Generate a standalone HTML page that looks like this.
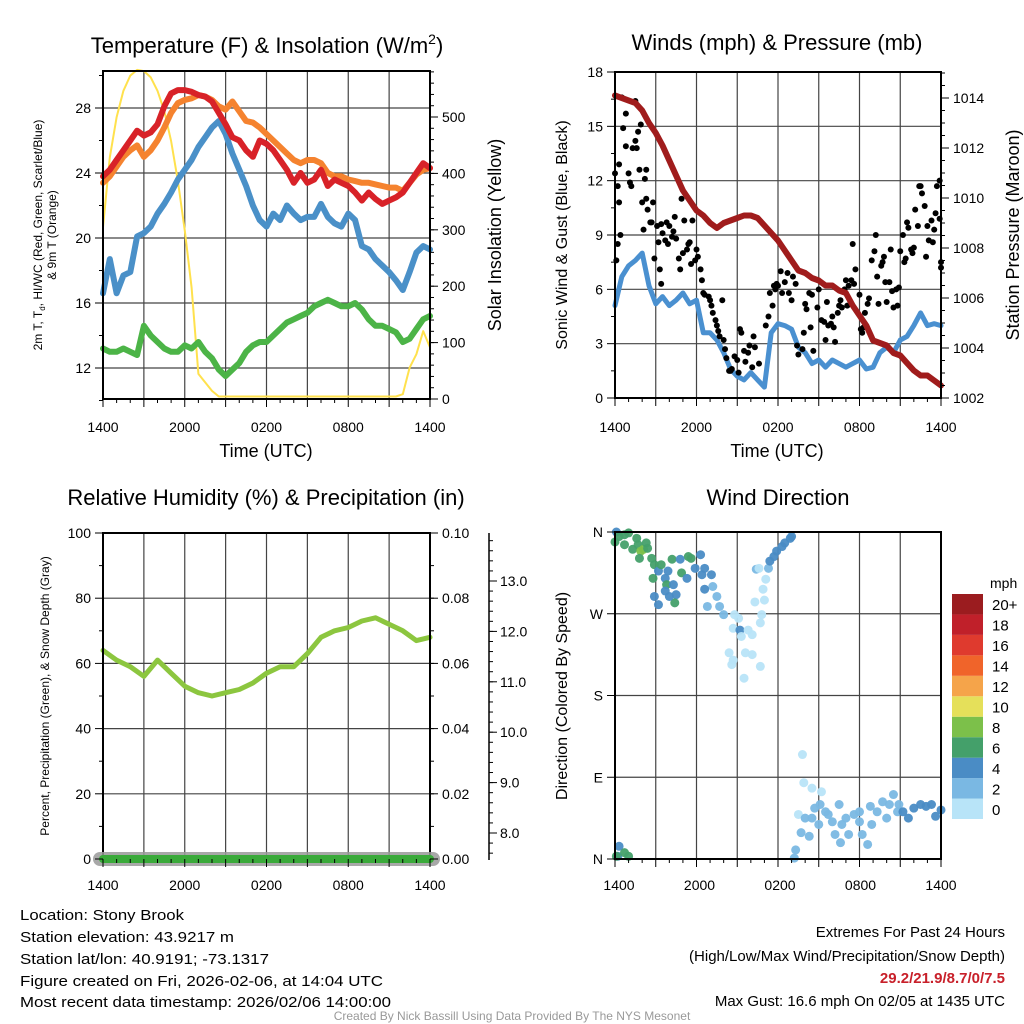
<!DOCTYPE html>
<html><head><meta charset="utf-8">
<style>
html,body{margin:0;padding:0;background:#fff;}
svg{display:block;font-family:"Liberation Sans",Arial,sans-serif;}
</style></head>
<body>
<svg id="chart" width="1024" height="1024" viewBox="0 0 1024 1024" xmlns="http://www.w3.org/2000/svg">
<rect width="1024" height="1024" fill="#fff"/>
<g id="g1"></g>
<g id="g2"></g>
<g id="g3"></g>
<g id="g4"></g>
<text x="267" y="53" font-size="22" text-anchor="middle">Temperature (F) &amp; Insolation (W/m<tspan font-size="14" dy="-9">2</tspan><tspan dy="9">)</tspan></text>
<text x="777" y="50" font-size="22" text-anchor="middle">Winds (mph) &amp; Pressure (mb)</text>
<text x="266" y="505" font-size="22" text-anchor="middle">Relative Humidity (%) &amp; Precipitation (in)</text>
<text x="778" y="505" font-size="22" text-anchor="middle">Wind Direction</text>
<text x="266" y="457" font-size="18" text-anchor="middle">Time (UTC)</text>
<text x="777" y="457" font-size="18" text-anchor="middle">Time (UTC)</text>
<text transform="translate(42,235) rotate(-90)" font-size="12" text-anchor="middle">2m T, T<tspan font-size="8" dy="3">d</tspan><tspan dy="-3">, HI/WC (Red, Green, Scarlet/Blue)</tspan></text>
<text transform="translate(56,235) rotate(-90)" font-size="12" text-anchor="middle">&amp; 9m T (Orange)</text>
<text transform="translate(501,235) rotate(-90)" font-size="18" text-anchor="middle">Solar Insolation (Yellow)</text>
<text transform="translate(567,235) rotate(-90)" font-size="16" text-anchor="middle">Sonic Wind &amp; Gust (Blue, Black)</text>
<text transform="translate(1019,235) rotate(-90)" font-size="18" text-anchor="middle">Station Pressure (Maroon)</text>
<text transform="translate(49,696) rotate(-90)" font-size="12" text-anchor="middle">Percent, Precipitation (Green), &amp; Snow Depth (Gray)</text>
<text transform="translate(567,696) rotate(-90)" font-size="16" text-anchor="middle">Direction (Colored By Speed)</text>
<g font-size="15">
<text x="20" y="920" textLength="164" lengthAdjust="spacingAndGlyphs">Location: Stony Brook</text>
<text x="20" y="942" textLength="214" lengthAdjust="spacingAndGlyphs">Station elevation: 43.9217 m</text>
<text x="20" y="964" textLength="249" lengthAdjust="spacingAndGlyphs">Station lat/lon: 40.9191; -73.1317</text>
<text x="20" y="986" textLength="363" lengthAdjust="spacingAndGlyphs">Figure created on Fri, 2026-02-06, at 14:04 UTC</text>
<text x="20" y="1007" textLength="371" lengthAdjust="spacingAndGlyphs">Most recent data timestamp: 2026/02/06 14:00:00</text>
</g>
<g font-size="15" text-anchor="end">
<text x="1005" y="937">Extremes For Past 24 Hours</text>
<text x="1005" y="961">(High/Low/Max Wind/Precipitation/Snow Depth)</text>
<text x="1005" y="983" fill="#c8202a" font-weight="bold">29.2/21.9/8.7/0/7.5</text>
<text x="1005" y="1006">Max Gust: 16.6 mph On 02/05 at 1435 UTC</text>
</g>
<text x="512" y="1020" font-size="12" fill="#999" text-anchor="middle">Created By Nick Bassill Using Data Provided By The NYS Mesonet</text>
</svg>
<script>
var tempT=[23.8,24.2,24.8,25.4,26.0,26.6,26.3,26.5,27.0,28.1,28.9,29.1,29.1,29.0,28.8,28.7,28.4,27.7,27.0,26.2,26.0,25.4,25.0,26.0,25.8,25.4,24.8,24.2,23.4,24.0,23.4,23.6,24.2,23.2,23.6,23.4,23.2,22.8,22.3,22.8,22.4,22.1,22.3,22.5,22.8,23.4,24.0,24.6,24.3];
var temp9m=[23.4,23.8,24.4,25.0,25.4,25.7,25.0,25.4,26.0,26.8,27.7,28.3,28.5,28.6,28.8,28.7,28.5,28.1,27.9,28.4,27.8,27.2,27.1,26.8,26.4,26.0,25.6,25.2,24.8,24.6,24.8,24.8,24.6,24.0,23.8,23.8,23.6,23.5,23.4,23.4,23.3,23.2,23.1,23.1,22.9,23.4,23.9,24.2,24.3];
var dewT=[16.6,18.7,16.6,17.7,17.9,20.1,20.3,20.7,21.5,22.1,22.8,23.6,24.2,24.8,25.6,26.2,26.8,27.2,26.4,25.2,24.2,23.2,22.0,21.1,20.7,21.5,21.1,22.0,21.5,21.1,21.3,21.3,22.1,21.3,20.9,20.7,21.5,21.1,19.5,19.3,18.7,18.3,17.9,17.4,16.8,17.9,19.1,19.5,19.3];
var hiwc=[13.2,13.0,13.0,13.2,13.0,12.8,14.6,14.0,13.6,13.2,13.0,13.0,13.4,13.2,13.6,13.0,12.6,11.9,11.5,11.9,12.3,13.0,13.4,13.6,13.6,14.0,14.4,14.8,15.0,15.2,15.4,15.8,16.0,16.2,16.0,15.8,15.8,16.0,15.6,15.0,14.6,14.6,14.4,14.2,13.6,13.8,14.4,15.0,15.2];
var solar=[300,424,495,542,569,579,577,566,542,506,453,382,294,193,40,25,10,0,0,0,0,0,0,0,0,0,0,0,0,0,0,0,0,0,0,0,0,0,0,0,0,0,0,0,4,51,75,116,87];
var pressure=[1014.1,1014.0,1013.9,1013.8,1013.5,1013.0,1012.6,1012.1,1011.5,1010.9,1010.3,1009.9,1009.5,1009.3,1009.0,1008.8,1009.0,1009.1,1009.2,1009.3,1009.3,1009.2,1008.9,1008.6,1008.3,1007.9,1007.5,1007.1,1007.0,1006.8,1006.7,1006.5,1006.5,1006.3,1006.2,1005.7,1005.3,1004.9,1004.3,1004.2,1004.1,1003.8,1003.7,1003.4,1003.1,1002.9,1002.9,1002.7,1002.5];
var windSpd=[5.1,6.7,7.3,7.6,8.0,6.2,5.2,5.6,5.1,5.4,5.8,5.2,5.4,3.6,3.6,3.2,2.5,1.6,1.2,1.0,1.4,1.0,0.6,3.6,4.1,4.0,3.8,2.8,2.5,1.9,2.1,1.7,2.1,1.9,1.7,1.9,2.1,1.6,1.7,2.5,2.8,2.5,3.2,3.4,4.0,4.7,4.0,4.1,4.0];
var gustT=[0,0.1,0.2,0.2,0.3,0.5,0.3,0.4,0.6,0.8,0.8,1,1.1,1.2,1.3,1.5,1.6,1.5,1.7,1.8,1.9,2,2.1,2.2,2.3,2.3,2.4,2.6,2.7,2.8,2.9,3.1,3.2,3.3,3.4,3.4,3.5,3.7,3.8,3.9,4.0,4.2,4.3,4.4,4.5,4.7,4.8,4.9,5.0,5.1,5.3,5.4,5.5,5.6,5.7,5.9,6.0,6.1,6.3,6.4,6.5,6.6,6.9,7.0,7.1,7.2,7.4,7.5,7.6,7.7,7.9,8.0,8.1,8.2,8.4,8.5,8.6,8.8,9.0,9.1,9.2,9.3,9.5,9.6,9.8,9.9,10.1,10.2,10.3,10.6,11.1,11.3,11.4,11.6,11.7,11.8,11.9,12.0,12.2,12.3,12.5,12.7,12.8,13.0,13.1,13.3,13.4,13.5,13.8,13.9,14.0,14.1,14.3,14.4,14.5,14.6,14.9,15.0,15.2,15.4,15.5,15.6,15.7,15.9,16.0,16.1,16.2,16.4,16.5,16.6,16.7,16.9,17.0,17.1,17.2,17.4,17.5,17.6,17.7,18.0,18.1,18.2,18.3,18.4,18.6,18.7,18.9,19.1,19.2,19.3,19.4,19.6,19.7,19.8,19.9,20.0,20.2,20.3,20.4,20.5,20.7,20.8,20.9,21.0,21.2,21.3,21.4,21.5,21.6,21.8,21.9,22.0,22.1,22.3,22.4,22.5,22.6,22.8,22.9,23.0,23.1,23.3,23.4,23.5,23.6,23.7,23.9,24,23.9,24];
var gustV=[12.4,7.6,8.5,11.7,10.8,16.6,12.9,9.0,14.9,15.7,13.9,12.4,11.9,11.7,13.8,16.4,13.8,14.2,14.7,12.6,15.1,10.8,9.3,12.1,11.0,12.6,10.4,9.7,9.7,10.8,7.7,9.5,8.6,7.1,6.3,9.6,9.1,8.7,9.7,8.5,9.5,8.9,9.2,10.0,8.8,7.7,7.1,11.0,8.0,9.8,8.2,8.5,8.6,7.4,9.8,7.6,8.2,7.8,7.1,6.5,5.8,5.7,5.6,5.4,5.1,4.7,4.3,4.0,3.7,3.4,5.4,3.2,2.7,2.2,1.5,1.5,1.6,2.3,2.1,1.4,3.8,3.6,2.6,2.0,2.5,2.9,1.7,3.4,2.8,1.9,4.0,4.5,5.8,5.1,6.2,6.0,6.3,6.2,7.0,5.8,6.4,6.9,5.8,5.4,6.7,6.3,2.9,2.4,2.7,3.6,5.2,4.9,5.8,3.9,5.7,2.6,5.0,6.0,4.3,4.2,3.2,5.3,4.0,4.1,4.5,3.9,3.1,4.7,5.1,5.4,5.0,6.0,6.5,5.1,6.2,6.5,8.5,6.3,7.1,5.7,3.8,3.6,3.9,4.7,5.2,5.5,7.6,8.1,9.0,6.7,5.2,7.3,7.5,7.8,6.4,5.3,6.4,8.2,5.9,5.0,6.0,5.1,6.1,8.1,9.0,7.5,7.7,9.7,9.4,8.2,8.0,8.3,10.4,9.5,11.7,11.7,11.3,10.6,7.8,9.5,8.7,9.8,8.6,9.3,10.2,11.7,12.0,7.5,9.9,7.2];
var rhHours=[0,1,2,3,4,5,6,7,8,9,10,11,12,13,14,15,16,17,18,19,20,21,22,23,24];
var rh=[64,61,59,56,61,57,53,51,50,51,52,54,57,59,59,63,68,70,71,73,74,72,70,67,68];
var dirT=[0.1,0,0.3,0.7,1.0,0.7,1.3,1.6,1.7,1.9,2.1,1.8,2.3,2.4,2.7,2.9,2.8,3.2,3.4,3.7,3.9,3.8,4.2,4.3,4.5,4.4,2.9,3.2,3.7,4.0,4.8,4.9,5.3,5.4,5.6,5.9,6.3,6.4,6.6,7.1,7.2,6.6,6.8,7.5,7.7,8.0,8.8,9.1,8.7,9.2,9.8,10.1,9.3,8.4,8.7,8.6,9.6,10.1,10.7,9.5,10.7,10.8,11.0,10.3,10.9,11.1,10.4,10.6,11.3,11.4,11.7,11.9,12.3,12.5,12.9,13.0,0.2,0.3,0.7,1.0,0.1,13.8,13.9,14.5,15.2,13.5,13.7,13.3,13.2,14.0,14.3,14.7,15.1,15.5,15.0,16.0,16.2,16.6,17.0,17.2,17.6,18.0,18.2,18.6,18.8,18.9,19.3,19.7,20.0,20.2,20.5,20.9,20.8,21.2,21.6,22.0,22.5,22.9,23.3,23.6,24,16.5,18.0,14.5,15.7,16.7];
var dirDeg=[360,349,355,357,359,346,341,353,346,339,341,331,348,342,331,324,309,317,324,309,317,302,330,302,291,282,289,280,295,289,330,315,309,333,331,320,335,313,320,313,300,297,278,289,278,269,269,265,254,252,252,247,245,227,219,214,227,225,212,199,260,269,285,283,297,308,319,320,320,328,333,339,344,348,353,355,3,14,7,3,3,115,84,78,74,49,29,10,1,45,25,56,60,52,38,41,27,18,45,27,49,41,27,16,58,38,52,63,45,60,71,60,52,52,45,56,60,58,60,47,54,60,52,45,49,38];
var dirSpd=[4.5,6.5,6.5,7,7,7,7,6.5,7,8.5,8.5,6.5,6.5,6.5,6.5,6.5,7,4.5,6.5,4.5,4.5,7,7,4.5,4.5,7,4.5,4.5,4.5,4.5,4.5,6.5,4.5,6.5,6.5,4.5,4.5,4.5,4.5,4.5,3,4.5,3,3,3,3,1,1,1,4.5,1,1,1,1,1,1,1,1,1,1,1,1,1,1,1,1,3,1,3,4.5,4.5,4.5,4.5,4.5,4.5,4.5,4.5,4.5,6.5,6.5,6.5,1,1,1,1,1,3,3,3,3,3,3,3,3,3,3,3,3,3,3,3,3,3,3,3,3,3,3,3,3,3,3,3,4.5,4.5,4.5,4.5,4.5,4.5,4.5,4.5,3,3,3,3,3];
var barLabels=["0","2","4","6","8","10","12","14","16","18","20+"];
var barColors=["#b8e4f8","#7ab8e3","#4a8cc5","#44a06a","#7cc04a","#e5e05a","#f5a44a","#f0642a","#df3a2e","#c0202a","#9b1c1f"];
var timeLabels=["1400","2000","0200","0800","1400"];

var SVGNS="http://www.w3.org/2000/svg";
function mk(parent,tag,attrs){
  var e=document.createElementNS(SVGNS,tag);
  for(var k in attrs){e.setAttribute(k,attrs[k]);}
  parent.appendChild(e);
  return e;
}
function txt(parent,x,y,s,size,anchor){
  var t=mk(parent,'text',{x:x,y:y,'font-size':size,'text-anchor':anchor});
  t.textContent=s;
  return t;
}
function lin(d0,d1,r0,r1){return function(v){return r0+(v-d0)*(r1-r0)/(d1-d0);};}
function pathD(xs,ys,sx,sy){
  var s='';
  for(var i=0;i<xs.length;i++){s+=(i?'L':'M')+sx(xs[i]).toFixed(1)+','+sy(ys[i]).toFixed(1);}
  return s;
}
var halfH=[];
for(var hi=0;hi<tempT.length;hi++){halfH.push(hi*0.5);}

function frameGrid(g,x0,y0,x1,y1,sx,vGrid,hGridY){
  for(var i=0;i<vGrid.length;i++){
    var l=mk(g,'line',{x1:sx(vGrid[i]),x2:sx(vGrid[i]),y1:y0,y2:y1,stroke:'#444','stroke-width':1.2});
    
    
  }
  for(var j=0;j<hGridY.length;j++){
    var m=mk(g,'line',{x1:x0,x2:x1,y1:hGridY[j],y2:hGridY[j],stroke:'#444','stroke-width':1.2});
    
    
  }
}
function plotBox(g,x0,y0,x1,y1){
  var r=mk(g,'rect',{x:x0,y:y0,width:x1-x0,height:y1-y0,fill:'none',stroke:'#000','stroke-width':2});
  
  
}
function xTicks(g,sx,y1,labelY,lx){
  for(var h=0;h<=24;h++){mk(g,'line',{x1:sx(h),x2:sx(h),y1:y1,y2:y1+(h%3==0?8:4),stroke:'#000','stroke-width':1});}
  for(var i=0;i<timeLabels.length;i++){
    var xx=lx?lx(i*6):sx(i*6);
    var t=txt(g,xx,labelY,timeLabels[i],14,'middle');
    
    
  }
}
function yTicks(g,x,sy,vals,minor,fmt,side){
  var dir=(side==='left')?-1:1;
  for(var i=0;i<minor.length;i++){mk(g,'line',{x1:x,x2:x+dir*4,y1:sy(minor[i]),y2:sy(minor[i]),stroke:'#000','stroke-width':1});}
  for(var j=0;j<vals.length;j++){
    var v=vals[j];
    mk(g,'line',{x1:x,x2:x+dir*8,y1:sy(v),y2:sy(v),stroke:'#000','stroke-width':1});
    var t=txt(g,x+dir*12,sy(v)+5,fmt(v),14,(side==='left')?'end':'start');
    
    
  }
}
function seq(a,b,s,lo,sy){
  var r=[];
  for(var v=a;v<=b+1e-9;v+=s){var vv=+v.toFixed(4);if(sy(vv)>=lo)r.push(vv);}
  return r;
}
function drawLine(g,xs,ys,sx,sy,color,w,nm){
  var p=mk(g,'path',{d:pathD(xs,ys,sx,sy),fill:'none',stroke:color,'stroke-width':w,'stroke-linejoin':'round','stroke-linecap':'round'});
  
  
  return p;
}
function fmtInt(v){return String(v);}

// Panel 1
(function(){
  var g=document.getElementById('g1');
  var x0=103,x1=430,y0=71,y1=399;
  var sx=lin(0,24,x0,x1), sy=lin(12,28,368,108), ss=lin(0,500,396.5,114.5);
  frameGrid(g,x0,y0,x1,y1,sx,[3,6,9,12,15,18,21],[sy(12),sy(16),sy(20),sy(24),sy(28)]);
  drawLine(g,halfH,solar,sx,ss,'#ffe14d',2,'solar-insolation-line');
  drawLine(g,halfH,dewT,sx,sy,'#4a90c8',6,'dewpoint-line');
  drawLine(g,halfH,hiwc,sx,sy,'#4cb447',6,'heat-index-windchill-line');
  drawLine(g,halfH,temp9m,sx,sy,'#f5832f',6,'temperature-9m-line');
  drawLine(g,halfH,tempT,sx,sy,'#d82228',6,'temperature-2m-line');
  plotBox(g,x0,y0,x1,y1);
  var ssT=lin(0,500,399,117);
  yTicks(g,x0,sy,[12,16,20,24,28],seq(10,30,2,y0,sy),fmtInt,'left');
  yTicks(g,x1,ssT,[0,100,200,300,400,500],seq(20,580,20,y0,ssT),fmtInt,'right');
  xTicks(g,sx,y1,432);
})();

// Panel 2
(function(){
  var g=document.getElementById('g2');
  var x0=615,x1=941,y0=72,y1=398;
  var sx=lin(0,24,x0,x1), sy=lin(0,18,y1,y0), sp=lin(1002,1014,398,98);
  frameGrid(g,x0,y0,x1,y1,sx,[3,6,9,12,15,18,21],[sy(3),sy(6),sy(9),sy(12),sy(15)]);
  drawLine(g,halfH,windSpd,sx,sy,'#4a90d0',5,'sonic-wind-line');
  for(var i=0;i<gustT.length;i++){
    var c=mk(g,'circle',{cx:sx(gustT[i]),cy:sy(gustV[i]),r:3,fill:'#000'});
    
    
  }
  drawLine(g,halfH,pressure,sx,sp,'#a01c1c',6,'pressure-line');
  plotBox(g,x0,y0,x1,y1);
  yTicks(g,x0,sy,[0,3,6,9,12,15,18],seq(1.5,16.5,3,y0,sy),fmtInt,'left');
  yTicks(g,x1,sp,[1002,1004,1006,1008,1010,1012,1014],seq(1002.5,1015,0.5,y0,sp),fmtInt,'right');
  xTicks(g,sx,y1,432);
})();

// Panel 3
(function(){
  var g=document.getElementById('g3');
  var x0=103,x1=430,y0=533,y1=859;
  var sx=lin(0,24,x0,x1), sy=lin(0,100,y1,y0), spr=lin(0,0.1,y1,y0), ssn=lin(8,13,833,581);
  frameGrid(g,x0,y0,x1,y1,sx,[3,6,9,12,15,18,21],[sy(20),sy(40),sy(60),sy(80)]);
  drawLine(g,rhHours,rh,sx,sy,'#8cc63f',5,'relative-humidity-line');
  plotBox(g,x0,y0,x1,y1);
  var base=mk(g,'line',{x1:x0-3,x2:x1+3,y1:y1,y2:y1,stroke:'#9a9a9a','stroke-width':14,'stroke-linecap':'round',opacity:0.85});
  
  
  var pr=mk(g,'line',{x1:x0,x2:x1,y1:y1,y2:y1,stroke:'#3aaa3a','stroke-width':8,'stroke-linecap':'round'});
  
  
  yTicks(g,x0,sy,[0,20,40,60,80,100],seq(10,90,20,y0,sy),fmtInt,'left');
  yTicks(g,x1,spr,[0,0.02,0.04,0.06,0.08,0.1],seq(0.01,0.09,0.01,y0,spr),function(v){return v.toFixed(2);},'right');
  var ax=mk(g,'line',{x1:489,x2:489,y1:533,y2:860,stroke:'#000','stroke-width':1.5});
  
  
  for(var v=7.6;v<=13.9;v+=0.2){mk(g,'line',{x1:489,x2:493,y1:ssn(v),y2:ssn(v),stroke:'#000','stroke-width':1});}
  var sv=[8,9,10,11,12,13];
  for(var i=0;i<sv.length;i++){
    mk(g,'line',{x1:489,x2:497,y1:ssn(sv[i]),y2:ssn(sv[i]),stroke:'#000','stroke-width':1});
    var t=txt(g,500,ssn(sv[i])+5,sv[i].toFixed(1),14,'start');
    
    
  }
  xTicks(g,sx,y1,890);
})();

// Panel 4
(function(){
  var g=document.getElementById('g4');
  var x0=615,x1=941,y0=532,y1=859;
  var sx=lin(0,24,x0,x1), sy=lin(0,360,y1,y0);
  frameGrid(g,x0,y0,x1,y1,sx,[3,6,9,12,15,18,21],[sy(90),sy(180),sy(270)]);
  for(var i=0;i<dirT.length;i++){
    var ci=Math.min(10,Math.floor(dirSpd[i]/2));
    var c=mk(g,'circle',{cx:sx(dirT[i]),cy:sy(dirDeg[i]),r:4.5,fill:barColors[ci],opacity:0.95});
    
    
  }
  plotBox(g,x0,y0,x1,y1);
  var dl=['N','E','S','W','N'];
  for(var k=0;k<5;k++){
    var d=k*90;
    mk(g,'line',{x1:x0,x2:x0-8,y1:sy(d),y2:sy(d),stroke:'#000'});
    var t=txt(g,x0-12,sy(d)+5,dl[k],14,'end');
    
    
  }
  xTicks(g,sx,y1,890,lin(0,24,619,941));
  var bh=(819-594)/11;
  for(var b=0;b<barColors.length;b++){
    var y=819-(b+1)*bh;
    var r=mk(g,'rect',{x:952,y:y,width:31,height:bh,fill:barColors[b]});
    
    
    var lt=txt(g,992,y+bh/2+6,barLabels[b],15,'start');
    
    
  }
  var m=txt(g,990,588,'mph',14,'start');
  
  
})();
</script>
</body></html>
